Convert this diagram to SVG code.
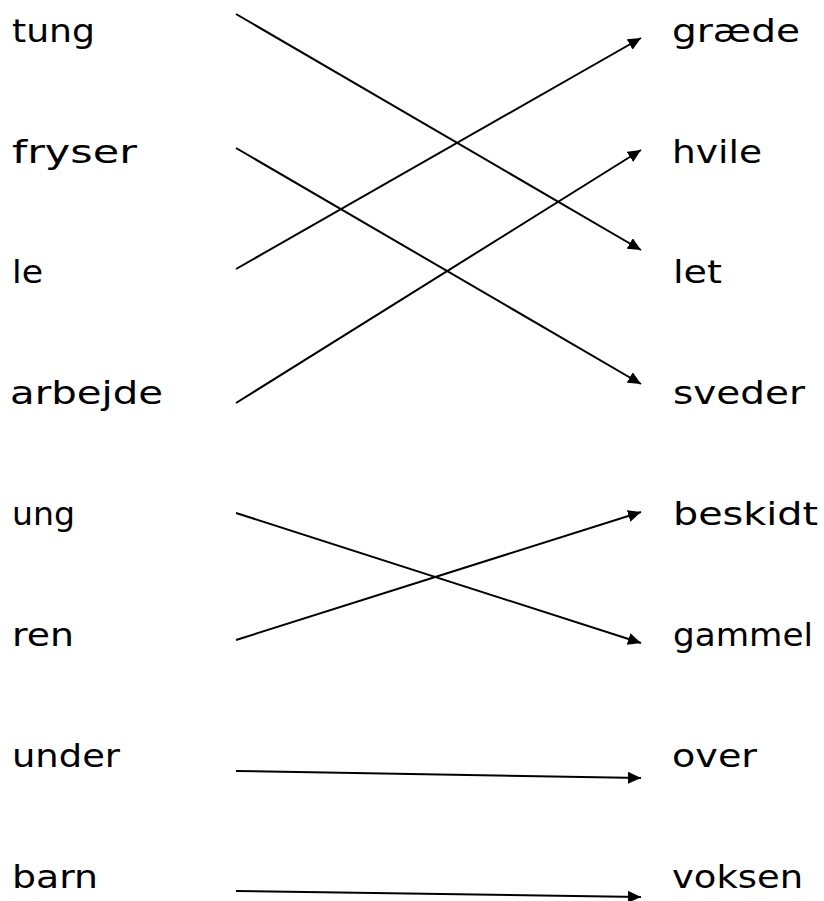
<svg xmlns="http://www.w3.org/2000/svg" width="824" height="901" viewBox="0 0 824 901">
<style>
  text { font-family: "DejaVu Sans", "Liberation Sans", sans-serif; font-size: 32px; fill: #000; }
  .c line { stroke: #000; stroke-width: 2; fill: none; }
</style>
<defs>
  <marker id="ah" markerUnits="userSpaceOnUse" markerWidth="14" markerHeight="12" refX="13" refY="6" orient="auto">
    <path d="M0,0 L13,6 L0,12 Z" fill="#000"/>
  </marker>
</defs>
<rect width="824" height="901" fill="#fff"/>
<g id="left">
  <g id="n-tung"><text x="12" y="42" textLength="83" lengthAdjust="spacingAndGlyphs">tung</text></g>
  <g id="n-fryser"><text x="12" y="163" textLength="125" lengthAdjust="spacingAndGlyphs">fryser</text></g>
  <g id="n-le"><text x="12" y="283" textLength="31" lengthAdjust="spacingAndGlyphs">le</text></g>
  <g id="n-arbejde"><text x="10" y="404" textLength="153" lengthAdjust="spacingAndGlyphs">arbejde</text></g>
  <g id="n-ung"><text x="12" y="525" textLength="63" lengthAdjust="spacingAndGlyphs">ung</text></g>
  <g id="n-ren"><text x="12" y="646" textLength="62" lengthAdjust="spacingAndGlyphs">ren</text></g>
  <g id="n-under"><text x="12" y="767" textLength="108" lengthAdjust="spacingAndGlyphs">under</text></g>
  <g id="n-barn"><text x="12" y="888" textLength="86" lengthAdjust="spacingAndGlyphs">barn</text></g>
</g>
<g id="right">
  <g id="n-graede"><text x="672" y="42" textLength="128" lengthAdjust="spacingAndGlyphs">græde</text></g>
  <g id="n-hvile"><text x="672" y="163" textLength="90" lengthAdjust="spacingAndGlyphs">hvile</text></g>
  <g id="n-let"><text x="673" y="283" textLength="49" lengthAdjust="spacingAndGlyphs">let</text></g>
  <g id="n-sveder"><text x="673" y="404" textLength="132" lengthAdjust="spacingAndGlyphs">sveder</text></g>
  <g id="n-beskidt"><text x="673" y="525" textLength="145" lengthAdjust="spacingAndGlyphs">beskidt</text></g>
  <g id="n-gammel"><text x="673" y="646" textLength="140" lengthAdjust="spacingAndGlyphs">gammel</text></g>
  <g id="n-over"><text x="672" y="767" textLength="85" lengthAdjust="spacingAndGlyphs">over</text></g>
  <g id="n-voksen"><text x="672" y="888" textLength="131" lengthAdjust="spacingAndGlyphs">voksen</text></g>
</g>
<g id="connectors" class="c">
  <line x1="236" y1="14" x2="641" y2="250" marker-end="url(#ah)"/>
  <line x1="236" y1="148" x2="641" y2="384" marker-end="url(#ah)"/>
  <line x1="236" y1="269" x2="641" y2="38" marker-end="url(#ah)"/>
  <line x1="236" y1="403" x2="641" y2="150" marker-end="url(#ah)"/>
  <line x1="236" y1="513" x2="641" y2="643" marker-end="url(#ah)"/>
  <line x1="236" y1="640" x2="641" y2="512" marker-end="url(#ah)"/>
  <line x1="236" y1="771" x2="641" y2="778" marker-end="url(#ah)"/>
  <line x1="236" y1="891" x2="641" y2="897" marker-end="url(#ah)"/>
</g>
</svg>
